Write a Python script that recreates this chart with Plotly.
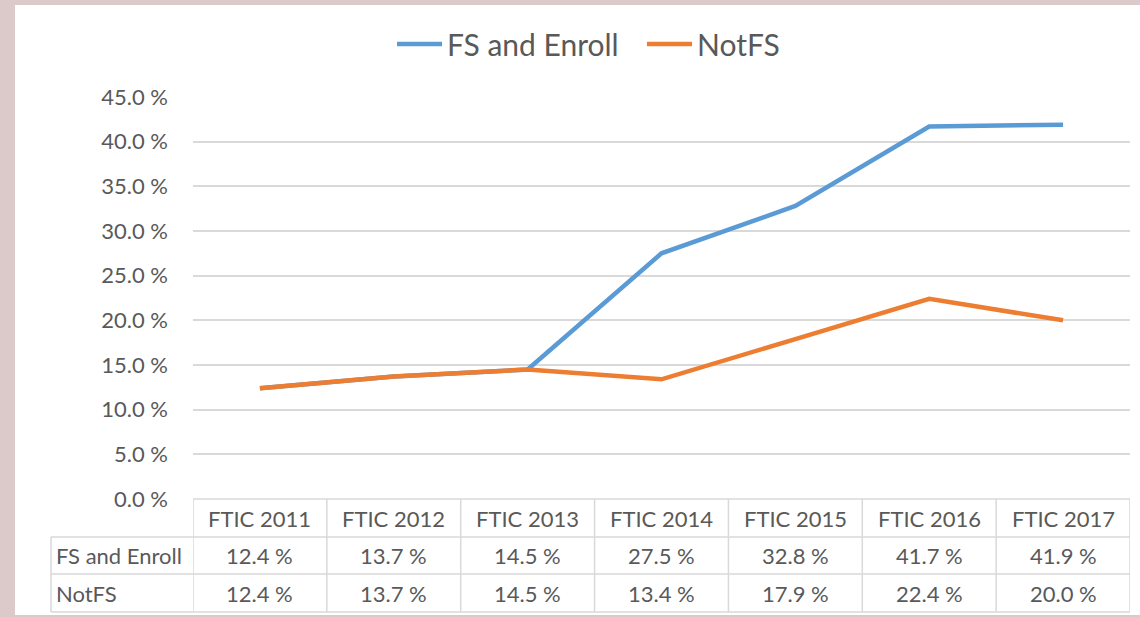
import plotly.graph_objects as go

categories = ["FTIC 2011", "FTIC 2012", "FTIC 2013", "FTIC 2014", "FTIC 2015", "FTIC 2016", "FTIC 2017"]
fs_enroll = [12.4, 13.7, 14.5, 27.5, 32.8, 41.7, 41.9]
not_fs = [12.4, 13.7, 14.5, 13.4, 17.9, 22.4, 20.0]
series_names = ["FS and Enroll", "NotFS"]
y_ticks = [0, 5, 10, 15, 20, 25, 30, 35, 40, 45]

W, H = 1140, 617
FONT = "Lato, Calibri, 'DejaVu Sans', sans-serif"
TXT = "#595959"
GRID = "#d9d9d9"
BLUE = "#5b9bd5"
ORANGE = "#ed7d31"
FS = 22

def px(x):
    return x / W

def py(y):
    return 1 - y / H

x_left, x_right = 193, 1130
y_top, y_zero = 97, 499
row_edges = [499, 537, 574, 612]
label_left = 51

fig = go.Figure()
fig.add_trace(go.Scatter(x=categories, y=fs_enroll, mode="lines", name=series_names[0],
                         line=dict(color=BLUE, width=4.5)))
fig.add_trace(go.Scatter(x=categories, y=not_fs, mode="lines", name=series_names[1],
                         line=dict(color=ORANGE, width=4.5)))

shapes = []
shapes.append(dict(type="rect", xref="paper", yref="paper", x0=px(15), x1=1.0, y0=py(615), y1=py(5),
                   fillcolor="white", line=dict(width=0), layer="below"))
for i, ye in enumerate(row_edges):
    x0 = x_left if i == 0 else label_left
    shapes.append(dict(type="line", xref="paper", yref="paper", x0=px(x0), x1=px(x_right),
                       y0=py(ye), y1=py(ye), line=dict(color=GRID, width=1.5)))
shapes.append(dict(type="line", xref="paper", yref="paper", x0=px(label_left), x1=px(label_left),
                   y0=py(row_edges[1]), y1=py(row_edges[3]), line=dict(color=GRID, width=1.5)))
for i in range(len(categories) + 1):
    shapes.append(dict(type="line", xref="x", yref="paper", x0=i - 0.5, x1=i - 0.5,
                       y0=py(row_edges[0]), y1=py(row_edges[3]), line=dict(color=GRID, width=1.5)))

annotations = []
centers = [(row_edges[k] + row_edges[k + 1]) / 2 for k in range(3)]
tf = dict(size=FS, color=TXT, family=FONT)

def cell(x, xref, y, text, xanchor="center"):
    return dict(x=x, xref=xref, y=py(y), yref="paper", text=text, showarrow=False,
                xanchor=xanchor, yanchor="middle", font=tf)

for i, c in enumerate(categories):
    annotations.append(cell(i, "x", centers[0], c))
    annotations.append(cell(i, "x", centers[1], f"{fs_enroll[i]:.1f} %"))
    annotations.append(cell(i, "x", centers[2], f"{not_fs[i]:.1f} %"))
for k, name in enumerate(series_names):
    annotations.append(cell(px(label_left + 3), "paper", centers[k + 1], name, xanchor="left"))

fig.update_layout(
    width=W, height=H,
    margin=dict(l=0, r=0, t=0, b=0, pad=0, autoexpand=False),
    paper_bgcolor="#dccaca",
    plot_bgcolor="rgba(0,0,0,0)",
    font=dict(family=FONT, color=TXT, size=FS),
    showlegend=True,
    legend=dict(orientation="h", x=px(392), xanchor="left", y=py(44), yanchor="middle",
                font=dict(size=30, color=TXT, family=FONT), bgcolor="rgba(0,0,0,0)",
                itemwidth=45, entrywidth=190, entrywidthmode="pixels", traceorder="normal"),
    xaxis=dict(domain=[px(x_left), px(x_right)], range=[-0.5, len(categories) - 0.5], automargin=False,
               showticklabels=False, showgrid=False, zeroline=False, showline=False, ticks=""),
    yaxis=dict(domain=[py(y_zero), py(y_top)], range=[0, 45], tickvals=y_ticks, automargin=False,
               ticktext=[f"{v:.1f} %" for v in y_ticks], showgrid=True, gridcolor=GRID, gridwidth=1.5,
               zeroline=False, showline=False, ticks="", ticklabelstandoff=24,
               tickfont=dict(size=FS, color=TXT, family=FONT)),
    shapes=shapes,
    annotations=annotations,
)

fig.write_html("out.html", config={"displayModeBar": False},
               post_script="document.body.style.margin='0';document.body.style.overflow='hidden';")
